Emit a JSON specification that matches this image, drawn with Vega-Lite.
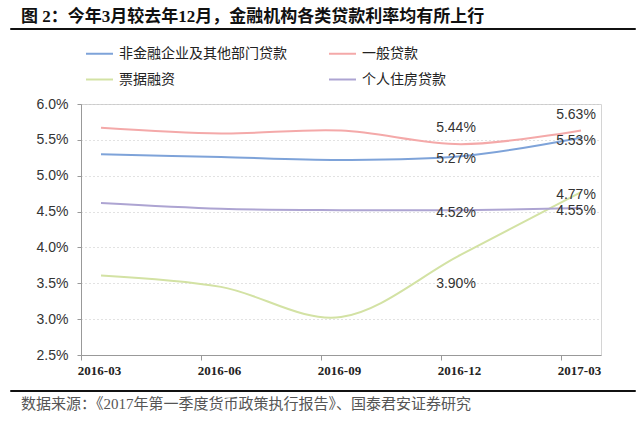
{
  "$schema": "https://vega.github.io/schema/vega-lite/v6.json",
  "background": "white",
  "padding": {"left": 7, "top": 7, "right": 8, "bottom": 0},
  "spacing": 2,
  "resolve": {"scale": {"color": "independent"}, "legend": {"color": "independent"}},
  "config": {
    "font": "Liberation Sans",
    "title": {"anchor": "start"}
  },
  "vconcat": [
    {
      "title": {
        "text": "图 2：今年3月较去年12月，金融机构各类贷款利率均有所上行",
        "font": "Liberation Serif, Noto Sans CJK SC",
        "fontSize": 17,
        "fontWeight": "bold",
        "color": "#111111",
        "dx": 11,
        "offset": 0
      },
      "width": 625,
      "height": 1,
      "view": {"stroke": "#111111", "strokeWidth": 1},
      "data": {"values": [{}]},
      "mark": {"type": "point", "opacity": 0}
    },
    {
      "spacing": 0,
      "resolve": {"scale": {"color": "independent"}, "legend": {"color": "independent"}},
      "hconcat": [
        {
          "width": 1,
          "height": 1,
          "view": {"stroke": null},
          "data": {"values": [{}]},
          "mark": {"type": "point", "opacity": 0}
        },
        {
          "width": 520,
          "height": 251,
          "view": {"stroke": "#d4d4d4"},
          "data": {
            "values": [
              {"date": "2016-03", "series": "非金融企业及其他部门贷款", "rate": 0.0530},
              {"date": "2016-06", "series": "非金融企业及其他部门贷款", "rate": 0.0526},
              {"date": "2016-09", "series": "非金融企业及其他部门贷款", "rate": 0.0522},
              {"date": "2016-12", "series": "非金融企业及其他部门贷款", "rate": 0.0527},
              {"date": "2017-03", "series": "非金融企业及其他部门贷款", "rate": 0.0553},
              {"date": "2016-03", "series": "一般贷款", "rate": 0.0567},
              {"date": "2016-06", "series": "一般贷款", "rate": 0.0559},
              {"date": "2016-09", "series": "一般贷款", "rate": 0.0563},
              {"date": "2016-12", "series": "一般贷款", "rate": 0.0544},
              {"date": "2017-03", "series": "一般贷款", "rate": 0.0563},
              {"date": "2016-03", "series": "票据融资", "rate": 0.0361},
              {"date": "2016-06", "series": "票据融资", "rate": 0.0345},
              {"date": "2016-09", "series": "票据融资", "rate": 0.0303},
              {"date": "2016-12", "series": "票据融资", "rate": 0.0390},
              {"date": "2017-03", "series": "票据融资", "rate": 0.0477},
              {"date": "2016-03", "series": "个人住房贷款", "rate": 0.0462},
              {"date": "2016-06", "series": "个人住房贷款", "rate": 0.0454},
              {"date": "2016-09", "series": "个人住房贷款", "rate": 0.0452},
              {"date": "2016-12", "series": "个人住房贷款", "rate": 0.0452},
              {"date": "2017-03", "series": "个人住房贷款", "rate": 0.0455}
            ]
          },
          "encoding": {
            "x": {
              "field": "date",
              "type": "ordinal",
              "scale": {"type": "point", "padding": 0.1667},
              "axis": {
                "title": ".",
                "titleFontSize": 1,
                "titleOpacity": 0,
                "titlePadding": 6,
                "labelAngle": 0,
                "labelFont": "Liberation Serif",
                "labelFontWeight": "bold",
                "labelFontSize": 13,
                "labelColor": "#222222",
                "labelPadding": 4,
                "tickOffset": -20,
                "labelOffset": 18,
                "tickSize": 5,
                "tickColor": "#999999",
                "domainColor": "#999999",
                "grid": false
              }
            },
            "y": {
              "field": "rate",
              "type": "quantitative",
              "scale": {"domain": [0.025, 0.06], "nice": false, "zero": false},
              "axis": {
                "title": ".",
                "titleFontSize": 1,
                "titleOpacity": 0,
                "titlePadding": 5,
                "minExtent": 60,
                "maxExtent": 60,
                "values": [0.025, 0.03, 0.035, 0.04, 0.045, 0.05, 0.055, 0.06],
                "format": ".1%",
                "labelFontSize": 14,
                "labelColor": "#333333",
                "labelPadding": 9,
                "tickSize": 4,
                "tickColor": "#999999",
                "domainColor": "#999999",
                "gridColor": "#c4c4c4",
                "gridDash": [1, 3]
              }
            }
          },
          "layer": [
            {
              "mark": {"type": "line", "interpolate": "cardinal", "tension": 0, "strokeWidth": 2},
              "encoding": {
                "color": {
                  "field": "series",
                  "type": "nominal",
                  "sort": ["非金融企业及其他部门贷款", "一般贷款", "票据融资", "个人住房贷款"],
                  "scale": {
                    "domain": ["非金融企业及其他部门贷款", "一般贷款", "票据融资", "个人住房贷款"],
                    "range": ["#7ea3d9", "#f4a9a9", "#d3e2a4", "#ada4d2"]
                  },
                  "legend": {
                    "title": null,
                    "orient": "top",
                    "offset": 13,
                    "padding": 4,
                    "direction": "horizontal",
                    "columns": 2,
                    "symbolType": "stroke",
                    "symbolSize": 729,
                    "symbolStrokeWidth": 2,
                    "labelFont": "Noto Sans CJK SC",
                    "labelFontSize": 14,
                    "labelLimit": 400,
                    "labelColor": "#222222",
                    "labelOffset": 5,
                    "columnPadding": 38,
                    "rowPadding": 4
                  }
                }
              }
            },
            {
              "transform": [
                {"filter": "datum.series === '一般贷款' && (datum.date === '2016-12' || datum.date === '2017-03')"}
              ],
              "mark": {"type": "text", "dy": -16, "dx": -5, "fontSize": 14, "color": "#333333", "baseline": "middle"},
              "encoding": {"text": {"field": "rate", "type": "quantitative", "format": ".2%"}}
            },
            {
              "transform": [
                {"filter": "datum.series === '票据融资' && datum.date === '2016-12'"}
              ],
              "mark": {"type": "text", "dy": 29, "dx": -5, "fontSize": 14, "color": "#333333", "baseline": "middle"},
              "encoding": {"text": {"field": "rate", "type": "quantitative", "format": ".2%"}}
            },
            {
              "transform": [
                {"filter": "datum.series !== '一般贷款' && (datum.date === '2017-03' || (datum.date === '2016-12' && datum.series !== '票据融资'))"}
              ],
              "mark": {"type": "text", "dy": 3, "dx": -5, "fontSize": 14, "color": "#333333", "baseline": "middle"},
              "encoding": {"text": {"field": "rate", "type": "quantitative", "format": ".2%"}}
            }
          ]
        }
      ]
    },
    {
      "title": {
        "text": "数据来源：《2017年第一季度货币政策执行报告》、国泰君安证券研究",
        "orient": "bottom",
        "font": "Liberation Serif, Noto Sans CJK SC",
        "fontSize": 15,
        "fontWeight": "normal",
        "color": "#555555",
        "dx": 11,
        "offset": 4
      },
      "width": 625,
      "height": 1,
      "view": {"stroke": "#111111", "strokeWidth": 1},
      "data": {"values": [{}]},
      "mark": {"type": "point", "opacity": 0}
    }
  ]
}
